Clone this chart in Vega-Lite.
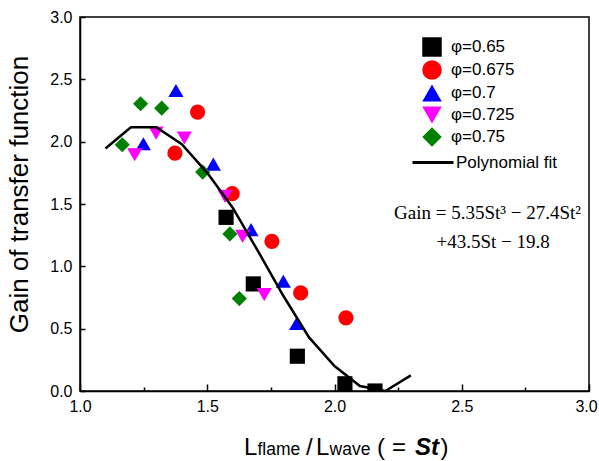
{
  "$schema": "https://vega.github.io/schema/vega-lite/v6.json",
  "width": 509,
  "height": 374,
  "autosize": "none",
  "padding": {"left": 80, "top": 17, "right": 10, "bottom": 70},
  "background": "white",
  "config": {
    "font": "Liberation Sans",
    "view": {"stroke": "black", "strokeWidth": 1.5},
    "axis": {
      "domainColor": "black", "domainWidth": 1.5,
      "tickColor": "black", "tickWidth": 1.5,
      "labelColor": "black", "labelFontSize": 16, "labelFont": "Liberation Sans",
      "grid": false, "zindex": 1,
      "titleColor": "black", "titleFont": "Liberation Sans", "titleFontWeight": "normal"
    },
    "legend": {"labelColor": "black", "labelFont": "Liberation Sans", "labelFontSize": 17}
  },
  "datasets": {
    "pts": [
      {"phi": "φ=0.65", "St": 1.574, "Gain": 1.393},
      {"phi": "φ=0.65", "St": 1.681, "Gain": 0.859},
      {"phi": "φ=0.65", "St": 1.854, "Gain": 0.279},
      {"phi": "φ=0.65", "St": 2.041, "Gain": 0.058},
      {"phi": "φ=0.65", "St": 2.159, "Gain": 0.0},
      {"phi": "φ=0.675", "St": 1.462, "Gain": 2.237},
      {"phi": "φ=0.675", "St": 1.373, "Gain": 1.908},
      {"phi": "φ=0.675", "St": 1.598, "Gain": 1.583},
      {"phi": "φ=0.675", "St": 1.754, "Gain": 1.2},
      {"phi": "φ=0.675", "St": 1.867, "Gain": 0.787},
      {"phi": "φ=0.675", "St": 2.045, "Gain": 0.587},
      {"phi": "φ=0.7", "St": 1.377, "Gain": 2.41},
      {"phi": "φ=0.7", "St": 1.249, "Gain": 1.983},
      {"phi": "φ=0.7", "St": 1.524, "Gain": 1.82},
      {"phi": "φ=0.7", "St": 1.672, "Gain": 1.294},
      {"phi": "φ=0.7", "St": 1.799, "Gain": 0.88},
      {"phi": "φ=0.7", "St": 1.851, "Gain": 0.541},
      {"phi": "φ=0.725", "St": 1.215, "Gain": 1.895},
      {"phi": "φ=0.725", "St": 1.299, "Gain": 2.069},
      {"phi": "φ=0.725", "St": 1.41, "Gain": 2.029},
      {"phi": "φ=0.725", "St": 1.57, "Gain": 1.561},
      {"phi": "φ=0.725", "St": 1.639, "Gain": 1.24},
      {"phi": "φ=0.725", "St": 1.724, "Gain": 0.773},
      {"phi": "φ=0.75", "St": 1.166, "Gain": 1.975},
      {"phi": "φ=0.75", "St": 1.238, "Gain": 2.304},
      {"phi": "φ=0.75", "St": 1.321, "Gain": 2.269},
      {"phi": "φ=0.75", "St": 1.482, "Gain": 1.756},
      {"phi": "φ=0.75", "St": 1.589, "Gain": 1.26},
      {"phi": "φ=0.75", "St": 1.626, "Gain": 0.741}
    ],
    "fit": [
      {"series": "Polynomial fit", "St": 1.1, "Gain": 1.945},
      {"series": "Polynomial fit", "St": 1.2, "Gain": 2.115},
      {"series": "Polynomial fit", "St": 1.3, "Gain": 2.115},
      {"series": "Polynomial fit", "St": 1.4, "Gain": 1.98},
      {"series": "Polynomial fit", "St": 1.5, "Gain": 1.75},
      {"series": "Polynomial fit", "St": 1.6, "Gain": 1.47},
      {"series": "Polynomial fit", "St": 1.7, "Gain": 1.12},
      {"series": "Polynomial fit", "St": 1.8, "Gain": 0.76},
      {"series": "Polynomial fit", "St": 1.9, "Gain": 0.43},
      {"series": "Polynomial fit", "St": 2.0, "Gain": 0.2},
      {"series": "Polynomial fit", "St": 2.1, "Gain": 0.04},
      {"series": "Polynomial fit", "St": 2.2, "Gain": 0.0},
      {"series": "Polynomial fit", "St": 2.3, "Gain": 0.125}
    ],
    "one": [{}]
  },
  "layer": [
    {
      "data": {"name": "pts"},
      "mark": {"type": "point", "filled": true, "size": 230, "opacity": 1, "clip": true},
      "encoding": {
        "x": {
          "field": "St", "type": "quantitative",
          "scale": {"domain": [1, 3], "nice": false, "zero": false},
          "axis": {
            "title": null,
            "values": [1, 1.25, 1.5, 1.75, 2, 2.25, 2.5, 2.75, 3],
            "labelExpr": "datum.value % 0.5 === 0 ? format(datum.value, '.1f') : ''",
            "tickSize": {"condition": {"test": "datum.value % 0.5 === 0", "value": -7}, "value": -4},
            "labelOffset": {"condition": {"test": "datum.value === 3", "value": -3}, "value": 0},
            "labelPadding": 14,
            "labelFlush": false,
            "labelOverlap": false
          }
        },
        "y": {
          "field": "Gain", "type": "quantitative",
          "scale": {"domain": [0, 3], "nice": false, "zero": false},
          "axis": {
            "title": "Gain of transfer function",
            "titleFontSize": 26,
            "titleX": -53,
            "titleY": 177,
            "titleBaseline": "alphabetic",
            "titleAngle": -90,
            "values": [0, 0.25, 0.5, 0.75, 1, 1.25, 1.5, 1.75, 2, 2.25, 2.5, 2.75, 3],
            "labelExpr": "datum.value % 0.5 === 0 ? format(datum.value, '.1f') : ''",
            "tickSize": -5,
            "labelPadding": 13,
            "labelFlush": false,
            "labelOverlap": false
          }
        },
        "fill": {
          "field": "phi", "type": "nominal",
          "scale": {
            "domain": ["φ=0.65", "φ=0.675", "φ=0.7", "φ=0.725", "φ=0.75"],
            "range": ["#000000", "#ff0000", "#0000ff", "#ff00ff", "#008000"]
          },
          "legend": {
            "orient": "none", "legendX": 342, "legendY": 20, "title": null,
            "symbolSize": 380, "labelOffset": 9, "rowPadding": 3, "symbolStrokeWidth": 0
          }
        },
        "shape": {
          "field": "phi", "type": "nominal",
          "scale": {
            "domain": ["φ=0.65", "φ=0.675", "φ=0.7", "φ=0.725", "φ=0.75"],
            "range": ["square", "circle", "triangle-up", "triangle-down", "diamond"]
          },
          "legend": {
            "orient": "none", "legendX": 342, "legendY": 20, "title": null,
            "symbolSize": 380, "labelOffset": 9, "rowPadding": 3, "symbolStrokeWidth": 0
          }
        }
      }
    },
    {
      "data": {"name": "fit"},
      "mark": {"type": "line", "strokeWidth": 2.5},
      "encoding": {
        "x": {"field": "St", "type": "quantitative"},
        "y": {"field": "Gain", "type": "quantitative"},
        "stroke": {
          "field": "series", "type": "nominal",
          "scale": {"domain": ["Polynomial fit"], "range": ["black"]},
          "legend": {
            "orient": "none", "legendX": 331, "legendY": 123.5, "title": null,
            "symbolType": "stroke", "symbolSize": 1681, "symbolStrokeWidth": 3, "labelOffset": 1
          }
        }
      }
    },
    {
      "data": {"name": "one"},
      "mark": {"type": "text", "text": "Gain = 5.35St³ − 27.4St²", "font": "Liberation Serif", "fontSize": 19, "align": "center", "baseline": "alphabetic", "color": "black"},
      "encoding": {"x": {"datum": 2.601, "type": "quantitative"}, "y": {"datum": 1.383, "type": "quantitative"}}
    },
    {
      "data": {"name": "one"},
      "mark": {"type": "text", "text": "+43.5St − 19.8", "font": "Liberation Serif", "fontSize": 19, "align": "center", "baseline": "alphabetic", "color": "black"},
      "encoding": {"x": {"datum": 2.623, "type": "quantitative"}, "y": {"datum": 1.151, "type": "quantitative"}}
    },
    {
      "data": {"name": "one"},
      "mark": {"type": "text", "text": "L", "fontSize": 24, "align": "left", "baseline": "alphabetic", "color": "black"},
      "encoding": {"x": {"datum": 1.6444, "type": "quantitative"}, "y": {"datum": -0.513, "type": "quantitative"}}
    },
    {
      "data": {"name": "one"},
      "mark": {"type": "text", "text": "flame", "fontSize": 17.5, "align": "left", "baseline": "alphabetic", "color": "black"},
      "encoding": {"x": {"datum": 1.6974, "type": "quantitative"}, "y": {"datum": -0.513, "type": "quantitative"}}
    },
    {
      "data": {"name": "one"},
      "mark": {"type": "text", "text": "/", "fontSize": 24, "align": "left", "baseline": "alphabetic", "color": "black"},
      "encoding": {"x": {"datum": 1.8881, "type": "quantitative"}, "y": {"datum": -0.513, "type": "quantitative"}}
    },
    {
      "data": {"name": "one"},
      "mark": {"type": "text", "text": "L", "fontSize": 24, "align": "left", "baseline": "alphabetic", "color": "black"},
      "encoding": {"x": {"datum": 1.9273, "type": "quantitative"}, "y": {"datum": -0.513, "type": "quantitative"}}
    },
    {
      "data": {"name": "one"},
      "mark": {"type": "text", "text": "wave", "fontSize": 17.5, "align": "left", "baseline": "alphabetic", "color": "black"},
      "encoding": {"x": {"datum": 1.9804, "type": "quantitative"}, "y": {"datum": -0.513, "type": "quantitative"}}
    },
    {
      "data": {"name": "one"},
      "mark": {"type": "text", "text": "(", "fontSize": 24, "align": "left", "baseline": "alphabetic", "color": "black"},
      "encoding": {"x": {"datum": 2.167, "type": "quantitative"}, "y": {"datum": -0.513, "type": "quantitative"}}
    },
    {
      "data": {"name": "one"},
      "mark": {"type": "text", "text": "=", "fontSize": 24, "align": "left", "baseline": "alphabetic", "color": "black"},
      "encoding": {"x": {"datum": 2.2259, "type": "quantitative"}, "y": {"datum": -0.513, "type": "quantitative"}}
    },
    {
      "data": {"name": "one"},
      "mark": {"type": "text", "text": "St", "fontSize": 24, "fontWeight": "bold", "fontStyle": "italic", "align": "left", "baseline": "alphabetic", "color": "black"},
      "encoding": {"x": {"datum": 2.3163, "type": "quantitative"}, "y": {"datum": -0.513, "type": "quantitative"}}
    },
    {
      "data": {"name": "one"},
      "mark": {"type": "text", "text": ")", "fontSize": 24, "align": "left", "baseline": "alphabetic", "color": "black"},
      "encoding": {"x": {"datum": 2.4166, "type": "quantitative"}, "y": {"datum": -0.513, "type": "quantitative"}}
    }
  ]
}
